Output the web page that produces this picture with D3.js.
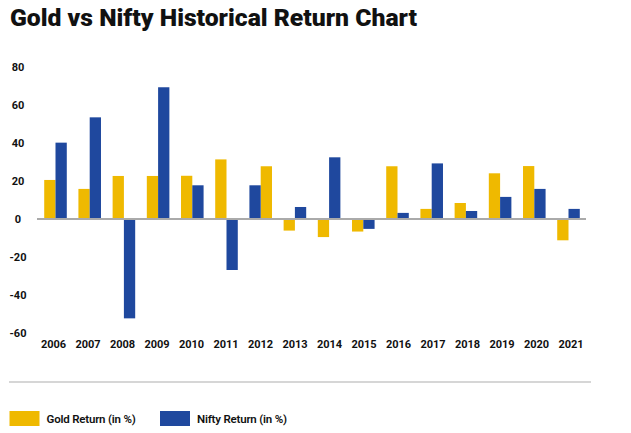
<!DOCTYPE html>
<html><head><meta charset="utf-8">
<script src="https://cdn.jsdelivr.net/npm/d3@7"></script>
<style>body{margin:0;background:#fff}svg{display:block}text{font-family:Roboto,"Open Sans",sans-serif}</style>
</head><body><svg id="c" width="631" height="433"></svg>
<script>
const years = ["2006","2007","2008","2009","2010","2011","2012","2013","2014","2015","2016","2017","2018","2019","2020","2021"];
const goldReturn  = [20.5, 15.8, 22.6, 22.6, 22.7, 31.3, 27.7, -6.1, -9.5, -6.6, 27.7, 5.3, 8.4, 24.0, 27.8, -11.2];
const niftyReturn = [40.1, 53.4, -52.2, 69.2, 17.7, -26.8, 17.7, 6.3, 32.4, -5.2, 3.2, 29.2, 4.2, 11.6, 15.8, 5.3];
const yTicks = [80, 60, 40, 20, 0, -20, -40, -60];
const seriesNames = ["Gold Return (in %)", "Nifty Return (in %)"];
const seriesKeys = ["gold", "nifty"];
const swappedYears = ["2012"]; // in the source, Nifty bar drawn first for this year
const colors = {gold: "#EFB900", nifty: "#1F489E"};

const svg = d3.select("#c");
svg.append("text").attr("x", 10).attr("y", 26)
  .attr("font-size", 24).attr("font-weight", 900).attr("fill", "#111")
  .attr("textLength", 407).attr("lengthAdjust", "spacingAndGlyphs")
  .text("Gold vs Nifty Historical Return Chart");

const data = years.map((y, i) => ({year: y, gold: goldReturn[i], nifty: niftyReturn[i]}));

const x = d3.scaleBand().domain(years).range([38.4, 585.6]).paddingInner(0.34).paddingOuter(0.17);
const x1 = d3.scaleBand().domain(seriesKeys).range([0, x.bandwidth()]);
const y = d3.scaleLinear().domain([-60, 80]).range([333.2, 66.7]);
const xl = d3.scalePoint().domain(years).range([53.5, 571]);

// y labels
svg.append("g").selectAll("text").data(yTicks).join("text")
  .attr("x", 18).attr("y", d => y(d)).attr("dy", "0.35em")
  .attr("text-anchor", "middle").attr("font-size", 11).attr("font-weight", 700).attr("fill", "#111")
  .text(d => d);

// bars
const g = svg.append("g");
data.forEach(d => {
  const swapped = swappedYears.includes(d.year);
  seriesKeys.forEach(k => {
    const key = swapped ? seriesKeys[1 - seriesKeys.indexOf(k)] : k;
    const v = d[k];
    g.append("rect")
      .attr("x", x(d.year) + x1(key))
      .attr("width", x1.bandwidth())
      .attr("y", y(Math.max(0, v)))
      .attr("height", Math.abs(y(v) - y(0)))
      .attr("fill", colors[k]);
  });
});

// zero line
svg.append("line").attr("x1", 37).attr("x2", 586).attr("y1", y(0)).attr("y2", y(0))
  .attr("stroke", "#aaaaaa").attr("stroke-width", 2);

// x labels
svg.append("g").selectAll("text").data(years).join("text")
  .attr("x", d => xl(d)).attr("y", 348)
  .attr("text-anchor", "middle").attr("font-size", 11).attr("font-weight", 700).attr("fill", "#111")
  .text(d => d);

// divider
svg.append("line").attr("x1", 9).attr("x2", 591).attr("y1", 382).attr("y2", 382)
  .attr("stroke", "#c8c8c8").attr("stroke-width", 1.5);

// legend
const legX = [9.5, 160];
seriesKeys.forEach((k, i) => {
  svg.append("rect").attr("x", legX[i]).attr("y", 411).attr("width", 30).attr("height", 15).attr("fill", colors[k]);
  svg.append("text").attr("x", legX[i] + 37).attr("y", 423)
    .attr("font-size", 11.5).attr("font-weight", 600).attr("fill", "#111").attr("letter-spacing", -0.2)
    .text(seriesNames[i]);
});
</script></body></html>
